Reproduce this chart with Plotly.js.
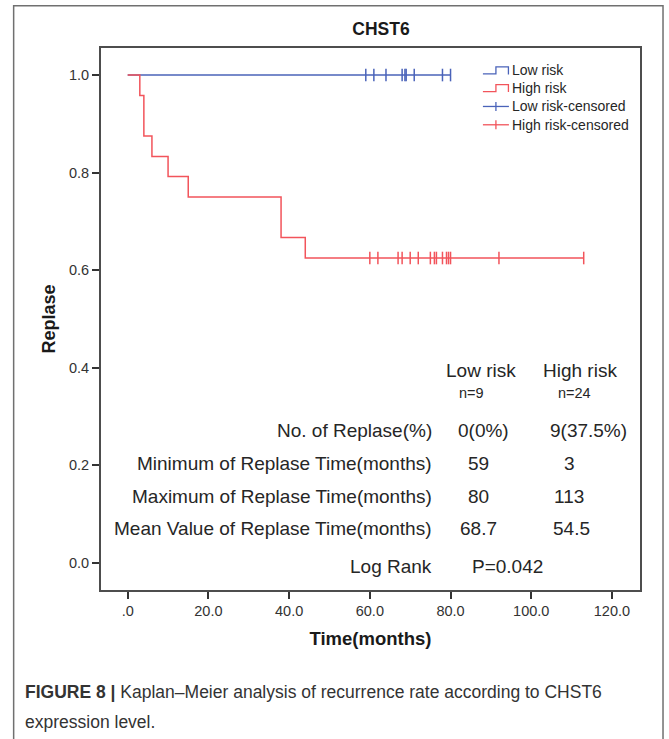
<!DOCTYPE html>
<html>
<head>
<meta charset="utf-8">
<script src="https://cdn.plot.ly/plotly-3.0.1.min.js"></script>
<style>html,body{margin:0;padding:0;background:#fff;}#chart{width:669px;height:739px;}</style>
</head>
<body>
<div id="chart"></div>
<script>
// ---- data ----
const lowStepTimes = [0, 80];
const lowStepSurv = [1.0, 1.0];
const highStepTimes = [0, 3, 4, 6, 10, 15, 38, 44, 113];
const highStepSurv = [1.0, 0.958, 0.875, 0.833, 0.792, 0.750, 0.667, 0.625, 0.625];
const lowCensorTimes = [59, 61, 64, 68, 68.7, 69, 71, 78, 80];
const highCensorTimes = [60, 62, 67, 68, 70, 72, 75, 76, 76.5, 78, 79, 79.5, 80, 92, 113];

const xTickVals = [0, 20, 40, 60, 80, 100, 120];
const xTickText = ['.0', '20.0', '40.0', '60.0', '80.0', '100.0', '120.0'];
const yTickVals = [0, 0.2, 0.4, 0.6, 0.8, 1.0];

const legendLabels = ['Low risk', 'High risk', 'Low risk-censored', 'High risk-censored'];
const groupHeaders = ['Low risk', 'High risk'];
const groupN = ['n=9', 'n=24'];
const tableRowLabels = ['No. of Replase(%)', 'Minimum of Replase Time(months)',
  'Maximum of Replase Time(months)', 'Mean Value of Replase Time(months)'];
const tableLow = ['0(0%)', '59', '80', '68.7'];
const tableHigh = ['9(37.5%)', '3', '113', '54.5'];
const logRankLabel = 'Log Rank';
const logRankValue = 'P=0.042';
const chartTitle = 'CHST6';
const captionBold = 'FIGURE 8 |';
const captionLine1 = ' Kaplan\u2013Meier analysis of recurrence rate according to CHST6';
const captionLine2 = 'expression level.';

// ---- layout constants (pixels) ----
const W = 669, H = 739;
const L = 101.3, R = 640, T = 48.3, B = 589.7;
const px = p => (p - L) / (R - L);
const py = p => (B - p) / (B - T);
const FONT = 'Liberation Sans, Arial, sans-serif';
const BLUE = '#4a63b9', RED = '#f2545b', TXT = '#262626';

function stepValue(times, surv, t) {
  let v = surv[0];
  for (let i = 0; i < times.length; i++) { if (times[i] <= t) v = surv[i]; }
  return v;
}

const traces = [
  {x: lowStepTimes, y: lowStepSurv, type: 'scatter', mode: 'lines', line: {shape: 'hv', color: BLUE, width: 1.5}, name: 'Low risk'},
  {x: lowCensorTimes, y: lowCensorTimes.map(t => stepValue(lowStepTimes, lowStepSurv, t)), type: 'scatter', mode: 'markers',
   marker: {symbol: 'line-ns', size: 9, line: {color: BLUE, width: 1.5}, color: BLUE}, name: 'Low risk-censored'},
  {x: highStepTimes, y: highStepSurv, type: 'scatter', mode: 'lines', line: {shape: 'hv', color: RED, width: 1.5}, name: 'High risk'},
  {x: highCensorTimes, y: highCensorTimes.map(t => stepValue(highStepTimes, highStepSurv, t)), type: 'scatter', mode: 'markers',
   marker: {symbol: 'line-ns', size: 9, line: {color: RED, width: 1.5}, color: RED}, name: 'High risk-censored'}
];

const annotations = [];
const shapes = [];
function txt(x, y, text, opts) {
  annotations.push(Object.assign({xref: 'paper', yref: 'paper', x: px(x), y: py(y), text: text, showarrow: false,
    xanchor: 'center', yanchor: 'middle', font: {family: FONT, size: 19, color: TXT}}, opts || {}));
}

// statistics table
const headerX = [481, 580];
const nX = [472, 575];
groupHeaders.forEach((h, i) => txt(headerX[i], 370.7, h));
groupN.forEach((n, i) => txt(nX[i], 393.3, n, {font: {family: FONT, size: 14.5, color: TXT}}));
const rowY = [430, 463.3, 496.7, 528.3];
const lowX = [484, 479, 479, 479];
const highX = [588.5, 570, 569, 572];
tableRowLabels.forEach((lab, i) => {
  txt(434, rowY[i], lab, {xanchor: 'right'});
  txt(lowX[i], rowY[i], tableLow[i]);
  txt(highX[i], rowY[i], tableHigh[i]);
});
txt(434, 566.7, logRankLabel, {xanchor: 'right'});
txt(507.5, 566.7, logRankValue);

// manual legend
const legY = [70.7, 88.3, 106.7, 125];
const legColors = [BLUE, RED, BLUE, RED];
legendLabels.forEach((lab, i) => {
  txt(510, legY[i], lab, {xanchor: 'left', font: {family: FONT, size: 14, color: TXT}});
  const c = legColors[i], yc = legY[i];
  if (i < 2) {
    const yb = yc + 3.5, yt = yc - 3.5;
    shapes.push({type: 'path', xref: 'paper', yref: 'paper', line: {color: c, width: 1.3},
      path: `M${px(483)},${py(yb)} L${px(496)},${py(yb)} L${px(496)},${py(yt)} L${px(508.5)},${py(yt)} L${px(508.5)},${py(yb + 0.5)}`});
  } else {
    shapes.push({type: 'line', xref: 'paper', yref: 'paper', x0: px(483), x1: px(509), y0: py(yc), y1: py(yc), line: {color: c, width: 1.3}});
    shapes.push({type: 'line', xref: 'paper', yref: 'paper', x0: px(496), x1: px(496), y0: py(yc - 4.5), y1: py(yc + 4.5), line: {color: c, width: 1.3}});
  }
});

// outer figure frame
shapes.push({type: 'path', xref: 'paper', yref: 'paper', line: {color: '#707070', width: 1.5},
  path: `M${px(14)},${py(745)} L${px(14)},${py(6)} L${px(663)},${py(6)} L${px(663)},${py(745)}`});

// caption
annotations.push({xref: 'paper', yref: 'paper', x: px(23), y: py(692), xanchor: 'left', yanchor: 'middle', showarrow: false,
  text: '<b>' + captionBold + '</b>' + captionLine1, font: {family: FONT, size: 17.5, color: '#333'}});
annotations.push({xref: 'paper', yref: 'paper', x: px(23), y: py(722), xanchor: 'left', yanchor: 'middle', showarrow: false,
  text: captionLine2, font: {family: FONT, size: 17.5, color: '#333'}});

const axisCommon = {
  showgrid: false, zeroline: false, showline: true, mirror: true, linecolor: '#4d4d4d', linewidth: 2,
  ticks: 'outside', ticklen: 7, tickwidth: 2, tickcolor: '#333',
  tickfont: {family: FONT, size: 14.5, color: '#333'}, fixedrange: true
};

const layout = {
  width: W, height: H, autosize: false,
  margin: {l: L, r: W - R, t: T, b: H - B, pad: 0},
  paper_bgcolor: '#fff', plot_bgcolor: '#fff', showlegend: false,
  title: {text: '<b>' + chartTitle + '</b>', font: {family: FONT, size: 17.5, color: '#1a1a1a'},
    xref: 'container', yref: 'container', x: 381 / W, y: 1 - 29 / H, xanchor: 'center', yanchor: 'middle'},
  xaxis: Object.assign({}, axisCommon, {range: [-6.62, 126.95], tickvals: xTickVals, ticktext: xTickText,
    title: {text: '<b>Time(months)</b>', font: {family: FONT, size: 18.5, color: '#1a1a1a'}, standoff: 14}}),
  yaxis: Object.assign({}, axisCommon, {range: [-0.0554, 1.0554], tickvals: yTickVals, tickformat: '.1f',
    title: {text: '<b>Replase</b>', font: {family: FONT, size: 18, color: '#1a1a1a'}, standoff: 9}}),
  annotations: annotations,
  shapes: shapes
};

Plotly.newPlot('chart', traces, layout, {displayModeBar: false, staticPlot: true});
</script>
</body>
</html>
